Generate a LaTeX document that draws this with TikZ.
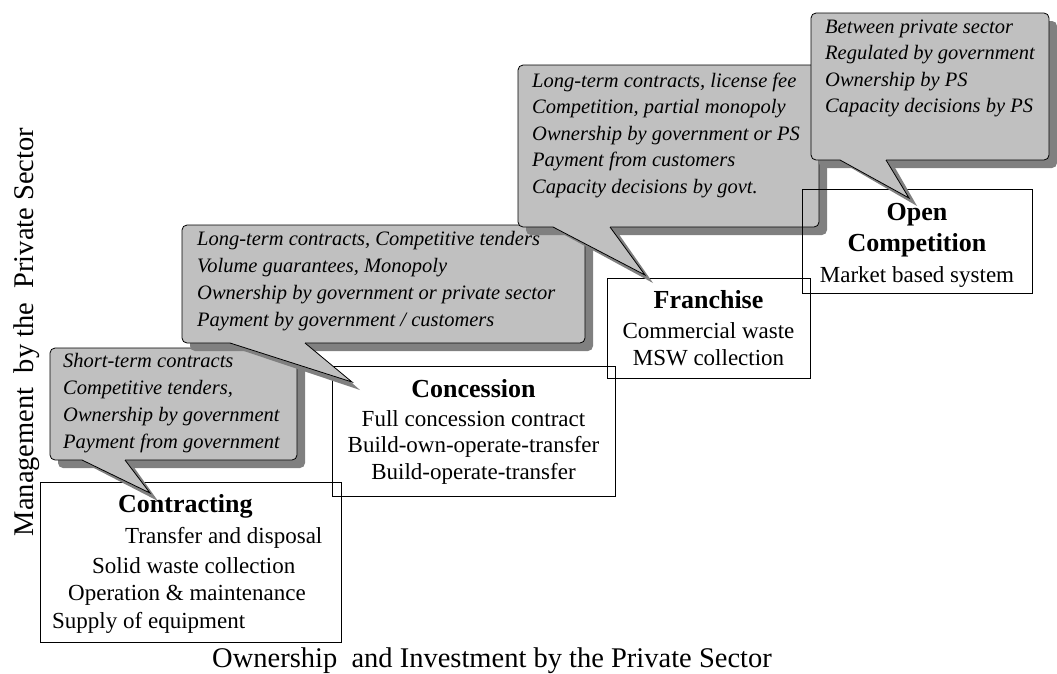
\documentclass[tikz,border=0pt]{standalone}
\usepackage{fontspec}
\setmainfont{Liberation Serif}
\definecolor{callfill}{RGB}{192,192,192}
\definecolor{callshadow}{RGB}{128,128,128}
\tikzset{
  calltxt/.style={anchor=base west, inner sep=0pt, font=\fontsize{20.5}{24}\selectfont\itshape},
  boxtxt/.style={anchor=base, inner sep=0pt, font=\fontsize{23}{27}\selectfont},
  boxtxtl/.style={anchor=base west, inner sep=0pt, font=\fontsize{23}{27}\selectfont},
  boxtitle/.style={anchor=base, inner sep=0pt, font=\fontsize{26}{30}\selectfont\bfseries},
  boxtitlel/.style={anchor=base west, inner sep=0pt, font=\fontsize{26}{30}\selectfont\bfseries},
  stagebox/.style={draw=black, line width=0.8pt},
  axislabel/.style={inner sep=0pt, font=\fontsize{28.5}{32}\selectfont},
  callline/.style={draw=black, line width=0.8pt},
}
% #1 L, #2 T, #3 R, #4 B, #5 tail base left, #6 tail base right, #7 tip x, #8 tip y
\newcommand\mycallout[8]{%
  \fill[callshadow, rounded corners=5pt] (#1+8,#2+8) rectangle (#3+8,#4+8);
  \fill[callshadow] (#5+8,#4+6) -- (#7+8,#8+8) -- (#6+8,#4+6) -- cycle;
  \filldraw[fill=callfill, callline, rounded corners=5pt] (#1,#2) rectangle (#3,#4);
  \fill[callfill] (#5,#4-2) -- (#5,#4) -- (#7,#8) -- (#6,#4) -- (#6,#4-2) -- cycle;
  \draw[callline] (#5,#4) -- (#7,#8) -- (#6,#4);
}
\begin{document}
\begin{tikzpicture}[x=1pt,y=-1pt]
\useasboundingbox (0,0) rectangle (1057,673);
\fill[white] (0,0) rectangle (1057,673);

% ---- Contracting box
\draw[stagebox] (40,482) rectangle (341,642);
% ---- callout 1
\mycallout{50}{348}{297}{460}{82}{125}{150}{493}
\node[calltxt] (c1a) at (63,367) {Short-term contracts};
\node[calltxt] (c1b) at (63,394) {Competitive tenders,};
\node[calltxt] (c1c) at (63,421) {Ownership by government};
\node[calltxt] (c1d) at (63,448) {Payment from government};

% ---- Concession box
\draw[stagebox] (332,366) rectangle (615,496);
% ---- callout 2
\mycallout{182}{225}{585}{343}{230}{305}{352}{382}
\node[calltxt] (c2a) at (197,245) {Long-term contracts, Competitive tenders};
\node[calltxt] (c2b) at (197,272) {Volume guarantees, Monopoly};
\node[calltxt] (c2c) at (197,299) {Ownership by government or private sector};
\node[calltxt] (c2d) at (197,326) {Payment by government / customers};

% ---- Franchise box
\draw[stagebox] (607,278) rectangle (810,378);
% ---- callout 3
\mycallout{518}{65}{819}{227}{553}{610}{645}{275}
\node[calltxt] (c3a) at (532,87) {Long-term contracts, license fee};
\node[calltxt] (c3b) at (532,113.5) {Competition, partial monopoly};
\node[calltxt] (c3c) at (532,140) {Ownership by government or PS};
\node[calltxt] (c3d) at (532,166.5) {Payment from customers};
\node[calltxt] (c3e) at (532,193) {Capacity decisions by govt.};

% ---- Open Competition box
\draw[stagebox] (802,189) rectangle (1032,293);
% ---- callout 4
\mycallout{811}{13}{1049}{160}{840}{886}{909}{198}
\node[calltxt] (c4a) at (825,33) {Between private sector};
\node[calltxt] (c4b) at (825,59.5) {Regulated by government};
\node[calltxt] (c4c) at (825,86) {Ownership by PS};
\node[calltxt] (c4d) at (825,112.5) {Capacity decisions by PS};

% ---- box texts
\node[boxtitlel] (t1) at (118,512) {Contracting};
\node[boxtxtl] (t1a) at (125,543) {Transfer and disposal};
\node[boxtxtl] (t1b) at (92,573) {Solid waste collection};
\node[boxtxtl] (t1c) at (68,600) {Operation \& maintenance};
\node[boxtxtl] (t1d) at (52,628) {Supply of equipment};

\node[boxtitle] (t2) at (473.5,397) {Concession};
\node[boxtxt] (t2a) at (473.5,426) {Full concession contract};
\node[boxtxt] (t2b) at (473.5,452) {Build-own-operate-transfer};
\node[boxtxt] (t2c) at (473.5,479) {Build-operate-transfer};

\node[boxtitle] (t3) at (708.5,308) {Franchise};
\node[boxtxt] (t3a) at (708.5,338) {Commercial waste};
\node[boxtxt] (t3b) at (708.5,365) {MSW collection};

\node[boxtitle] (t4) at (917,220) {Open};
\node[boxtitle] (t4b) at (917,251) {Competition};
\node[boxtxt] (t4a) at (917,282) {Market based system};

% ---- axis labels
\node[axislabel, rotate=90] (ylab) at (27,332) {Management\ \ by the\ \ Private Sector};
\node[axislabel, anchor=base west] (xlab) at (212,667) {Ownership\ \ and Investment by the Private Sector};
\end{tikzpicture}
\end{document}
